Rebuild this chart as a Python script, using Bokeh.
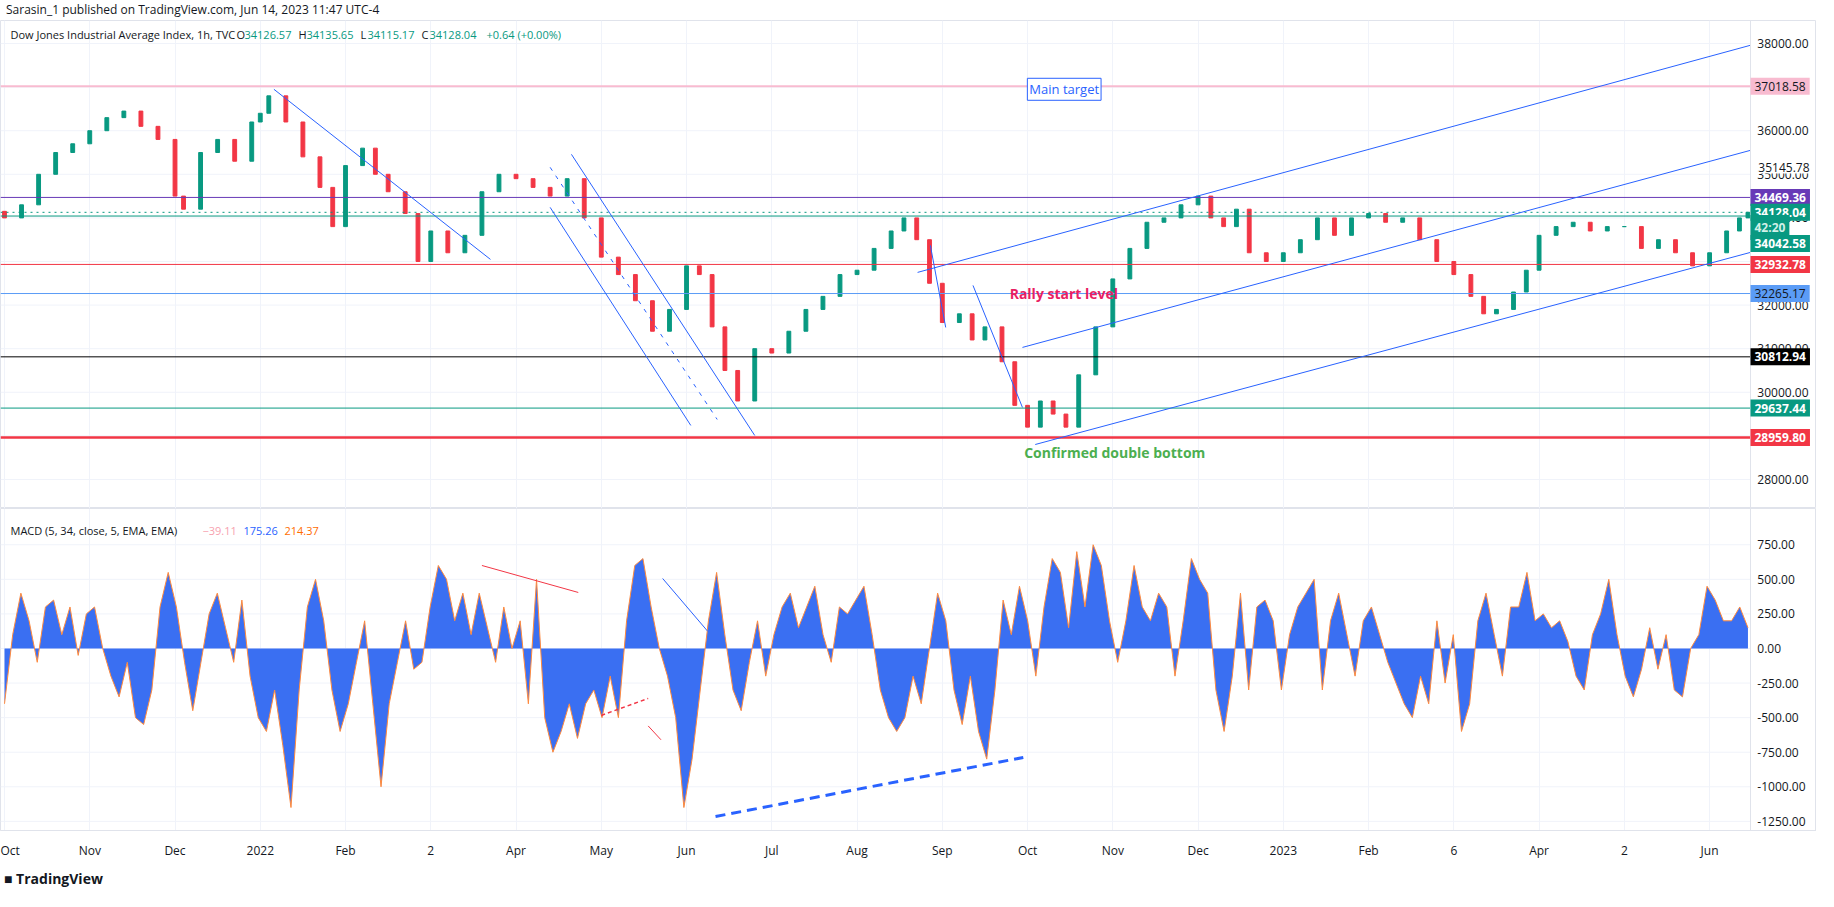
import numpy as np
from bokeh.plotting import figure
from bokeh.models import Label, Span, Div, FixedTicker, Range1d
from bokeh.layouts import column
from bokeh.embed import file_html
from bokeh.resources import INLINE
from bokeh.core.properties import value

# ---------------- data ----------------
month_labels = ["Oct", "Nov", "Dec", "2022", "Feb", "2", "Apr", "May", "Jun", "Jul", "Aug",
                "Sep", "Oct", "Nov", "Dec", "2023", "Feb", "6", "Apr", "2", "Jun"]

price_month = [0.0, 0.2, 0.4, 0.6, 0.8, 1.0, 1.2, 1.4, 1.6, 1.8, 2.0, 2.1, 2.3, 2.5, 2.7, 2.9,
               3.0, 3.1, 3.3, 3.5, 3.7, 3.85, 4.0, 4.2, 4.35, 4.5, 4.7, 4.85, 5.0, 5.2, 5.4, 5.6,
               5.8, 6.0, 6.2, 6.4, 6.6, 6.8, 7.0, 7.2, 7.4, 7.6, 7.8, 8.0, 8.15, 8.3, 8.45, 8.6,
               8.8, 9.0, 9.2, 9.4, 9.6, 9.8, 10.0, 10.2, 10.4, 10.55, 10.7, 10.85, 11.0, 11.2,
               11.35, 11.5, 11.7, 11.85, 12.0, 12.15, 12.3, 12.45, 12.6, 12.8, 13.0, 13.2, 13.4,
               13.6, 13.8, 14.0, 14.15, 14.3, 14.45, 14.6, 14.8, 15.0, 15.2, 15.4, 15.6, 15.8,
               16.0, 16.2, 16.4, 16.6, 16.8, 17.0, 17.2, 17.35, 17.5, 17.7, 17.85, 18.0, 18.2,
               18.4, 18.6, 18.8, 19.0, 19.2, 19.4, 19.6, 19.8, 20.0, 20.2, 20.35, 20.45]
price_close = [34000, 34300, 35000, 35500, 35700, 36000, 36300, 36450, 36100, 35800, 34500,
               34200, 35500, 35800, 35300, 36200, 36400, 36800, 36200, 35400, 34700, 33800,
               35200, 35600, 35000, 34600, 34100, 33000, 33700, 33200, 33600, 34600, 35000,
               34900, 34700, 34500, 34900, 34000, 33100, 32700, 32100, 31400, 31900, 32900,
               32700, 31500, 30500, 29800, 31000, 30900, 31400, 31900, 32200, 32700, 32800,
               33300, 33700, 34000, 33500, 32500, 31600, 31800, 31200, 31500, 30700, 29700,
               29200, 29800, 29500, 29200, 30400, 31500, 32600, 33300, 33900, 34000, 34300,
               34500, 34000, 33800, 34200, 33200, 33000, 33200, 33500, 34000, 33600, 34000,
               34100, 33900, 34000, 33500, 33000, 32700, 32200, 31800, 31900, 32300, 32800,
               33600, 33800, 33900, 33700, 33800, 33800, 33300, 33500, 33200, 32900, 33200,
               33700, 34000, 34128.04]
price_open0 = 34150

macd_hist = [-400, 100, 400, 200, -100, 300, 350, 100, 300, -50, 250, 300, 0, -200, -350, -100,
             -500, -550, -300, 300, 550, 300, -100, -450, -100, 250, 400, 150, -100, 350, -200,
             -500, -600, -300, -700, -1150, -300, 300, 500, 200, -300, -600, -400, -100, 200,
             -400, -1000, -400, -100, 200, -150, -100, 300, 600, 500, 200, 400, 100, 400, 150,
             -100, 300, 0, 200, -400, 500, -500, -750, -600, -400, -650, -400, -300, -500, -200,
             -500, 200, 600, 650, 300, 0, -200, -500, -1150, -800, -300, 200, 550, 100, -300,
             -450, -100, 200, -200, 100, 300, 400, 150, 300, 450, 100, -100, 300, 250, 350, 450,
             100, -300, -500, -600, -500, -200, -400, 0, 400, 200, -300, -550, -200, -600, -800,
             -300, 350, 100, 450, 200, -200, 300, 650, 550, 150, 700, 300, 750, 600, 200, -100,
             200, 600, 300, 200, 400, 300, -200, 200, 650, 500, 400, -300, -600, -200, 400, -300,
             300, 350, 200, -300, 100, 300, 400, 500, -300, 200, 400, 100, -200, 200, 300, 100,
             -100, -250, -400, -500, -200, -400, 200, -250, 100, -600, -400, 200, 400, 100, -200,
             300, 300, 550, 200, 250, 150, 200, 50, -200, -300, 100, 250, 500, 100, -200, -350,
             -150, 150, -150, 100, -300, -350, 0, 100, 450, 350, 200, 200, 300, 150]

price_ticks = [28000, 29000, 30000, 31000, 32000, 33000, 34000, 35000, 36000, 37000, 38000]
macd_ticks = [-1250, -1000, -750, -500, -250, 0, 250, 500, 750]

hlines = [37018.58, 34469.36, 34042.58, 32932.78, 32265.17, 30812.94, 29637.44, 28959.80]
hline_colors = ["#f8bbd0", "#673ab7", "#089981", "#f23645", "#5b9cf6", "#000000", "#089981", "#f23645"]
hline_widths = [2, 1, 1, 1, 1, 1, 1, 2.5]
last_price = 34128.04

trend_lines = [(3.16, 36950, 5.70, 33048, "solid"),
               (6.40, 34242, 8.05, 29239, "solid"),
               (6.40, 35160, 8.36, 29376, "4 6"),
               (6.65, 35458, 8.80, 29009, "solid"),
               (10.86, 33370, 11.04, 31487, "solid"),
               (11.36, 32451, 11.94, 29652, "solid"),
               (10.71, 32750, 20.48, 37960, "solid"),
               (11.94, 31029, 20.48, 35550, "solid"),
               (12.09, 28802, 20.48, 33209, "solid")]

macd_lines = [(5.60, 600, 6.73, 405, "#f23645", 1, "solid"),
              (7.00, -484, 7.55, -361, "#f23645", 1.5, "4 3"),
              (7.55, -560, 7.70, -660, "#f23645", 1, "solid"),
              (7.72, 506, 8.25, 123, "#2962ff", 1, "solid"),
              (8.34, -1215, 11.95, -788, "#2962ff", 3, "10 6")]

FONT = "Open Sans"
TXT = "#131722"
FW = 1816
X0, XE, XEND = -0.047, 20.48, 21.254
XLAB = XE + 0.08

def base(fig):
    fig.outline_line_color = "#e0e3eb"
    fig.ygrid.visible = False
    fig.yaxis.visible = False
    fig.xgrid.ticker = FixedTicker(ticks=list(range(len(month_labels))))
    fig.xgrid.grid_line_color = "#f0f3fa"
    fig.add_layout(Span(location=XE, dimension="height", line_color="#e0e3eb", line_width=1))

# ---------------- price panel ----------------
p = figure(width=FW, height=488, frame_width=FW, frame_height=488, output_backend="svg",
           toolbar_location=None, x_range=Range1d(X0, XEND), y_range=Range1d(27334, 38528),
           min_border_left=0, min_border_right=0, min_border_top=0, min_border_bottom=0)
p.xaxis.visible = False
base(p)
p.segment(x0=X0, x1=XE, y0=price_ticks, y1=price_ticks, line_color="#f0f3fa", line_width=1)
p.text(x=XLAB, y=price_ticks, text=[f"{t:.2f}" for t in price_ticks], text_font=value(FONT),
       text_font_size="12px", text_color=TXT, text_baseline="middle")

opens = [price_open0] + price_close[:-1]
tops = [max(a, b) for a, b in zip(opens, price_close)]
bots = [min(a, b) for a, b in zip(opens, price_close)]
cols = ["#089981" if c >= o else "#f23645" for o, c in zip(opens, price_close)]
p.vbar(x=price_month, top=tops, bottom=bots, width=0.045, color=cols)

p.segment(x0=X0, x1=XE, y0=hlines, y1=hlines, line_color=hline_colors, line_width=hline_widths)
p.segment(x0=[X0], x1=[XE], y0=[last_price], y1=[last_price], line_color="#089981",
          line_width=1, line_dash="dotted")
for t in trend_lines:
    p.line([t[0], t[2]], [t[1], t[3]], line_color="#2962ff", line_width=1, line_dash=t[4])

p.add_layout(Label(x=12.43, y=36950, text="Main target", text_font=FONT, text_font_size="13px",
                   text_color="#2962ff", text_align="center", text_baseline="middle",
                   border_line_color="#2962ff", background_fill_color="white", padding=2))
p.add_layout(Label(x=11.79, y=32265.17, text="Rally start level", text_font=FONT,
                   text_font_size="14px", text_font_style="bold", text_color="#e91e63",
                   text_baseline="middle"))
p.add_layout(Label(x=11.96, y=28620, text="Confirmed double bottom", text_font=FONT,
                   text_font_size="14px", text_font_style="bold", text_color="#4caf50",
                   text_baseline="middle"))

legend_parts = [(10, "Dow Jones Industrial Average Index, 1h, TVC", TXT),
                (236, "O", TXT), (244, "34126.57", "#089981"),
                (298, "H", TXT), (306, "34135.65", "#089981"),
                (360, "L", TXT), (367, "34115.17", "#089981"),
                (421, "C", TXT), (429, "34128.04", "#089981"),
                (486, "+0.64 (+0.00%)", "#089981")]
for xs, t, c in legend_parts:
    p.add_layout(Label(x=xs, y=474, x_units="screen", y_units="screen", text=t, text_font=FONT,
                       text_font_size="11px", text_color=c, text_baseline="middle"))

boxes = [(37018.58, "37018.58", "#f8bbd0", TXT), (34469.36, "34469.36", "#673ab7", "white"),
         (34128.04, "34128.04", "#089981", "white"), (33780, "42:20", "#089981", "#d1f0e8"),
         (33410, "34042.58", "#089981", "white"), (32932.78, "32932.78", "#f23645", "white"),
         (32265.17, "32265.17", "#5b9cf6", TXT), (30812.94, "30812.94", "#000000", "white"),
         (29637.44, "29637.44", "#089981", "white"), (28959.80, "28959.80", "#f23645", "white")]
p.add_layout(Label(x=XLAB, y=35145.78, text="35145.78", text_font=FONT, text_font_size="12px",
                   text_color=TXT, text_baseline="middle", background_fill_color="white", padding=1))
for yv, t, bg, fc in boxes:
    p.add_layout(Label(x=XE, y=yv, text=t, text_font=FONT, text_font_size="12px",
                       text_font_style="normal" if fc == TXT else "bold",
                       text_color=fc, background_fill_color=bg, text_baseline="middle",
                       padding=4))

# ---------------- MACD panel ----------------
q = figure(width=FW, height=352, frame_width=FW, frame_height=322, output_backend="svg",
           toolbar_location=None, x_range=p.x_range, y_range=Range1d(-1316, 1012),
           min_border_left=0, min_border_right=0, min_border_top=0)
base(q)
q.xaxis.ticker = FixedTicker(ticks=list(range(len(month_labels))))
q.xaxis.major_label_overrides = {i: s for i, s in enumerate(month_labels)}
q.xaxis.axis_line_color = "#e0e3eb"
q.xaxis.major_tick_line_color = None
q.xaxis.minor_tick_line_color = None
q.xaxis.major_label_text_font = FONT
q.xaxis.major_label_text_font_size = "12px"
q.xaxis.major_label_text_color = TXT
q.segment(x0=X0, x1=XE, y0=macd_ticks, y1=macd_ticks, line_color="#f0f3fa", line_width=1)
q.text(x=XLAB, y=macd_ticks, text=[f"{t:.2f}" for t in macd_ticks], text_font=value(FONT),
       text_font_size="12px", text_color=TXT, text_baseline="middle")

mx = np.linspace(0, 20.45, len(macd_hist))
q.varea(x=mx, y1=0, y2=macd_hist, fill_color="#3a6ff2")
q.line(mx, macd_hist, line_color="#ff8a3d", line_width=1)
for m0, v0, m1, v1, c, w, d in macd_lines:
    q.line([m0, m1], [v0, v1], line_color=c, line_width=w, line_dash=d)

macd_hdr = [(10, "MACD (5, 34, close, 5, EMA, EMA)", TXT), (202, "\u221239.11", "#f7a1ae"),
            (243, "175.26", "#2962ff"), (284, "214.37", "#ff6d00")]
for xs, t, c in macd_hdr:
    q.add_layout(Label(x=xs, y=300, x_units="screen", y_units="screen", text=t, text_font=FONT,
                       text_font_size="11px", text_color=c, text_baseline="middle"))

header = Div(text='<div style="font-family:\'Open Sans\';font-size:12px;color:#131722;line-height:20px;height:20px">'
                  'Sarasin_1 published on TradingView.com, Jun 14, 2023 11:47 UTC-4</div>',
             width=800, height=20, margin=(0, 0, 0, 6))
footer = Div(text='<div style="font-family:\'Open Sans\';font-size:14px;font-weight:bold;color:#131722">'
                  '<span style="color:#131722">&#9632;</span> TradingView</div>',
             width=300, height=30, margin=(8, 0, 0, 4))

lay = column(header, p, q, footer, spacing=0)
open("out.html", "w").write(file_html(lay, INLINE))
